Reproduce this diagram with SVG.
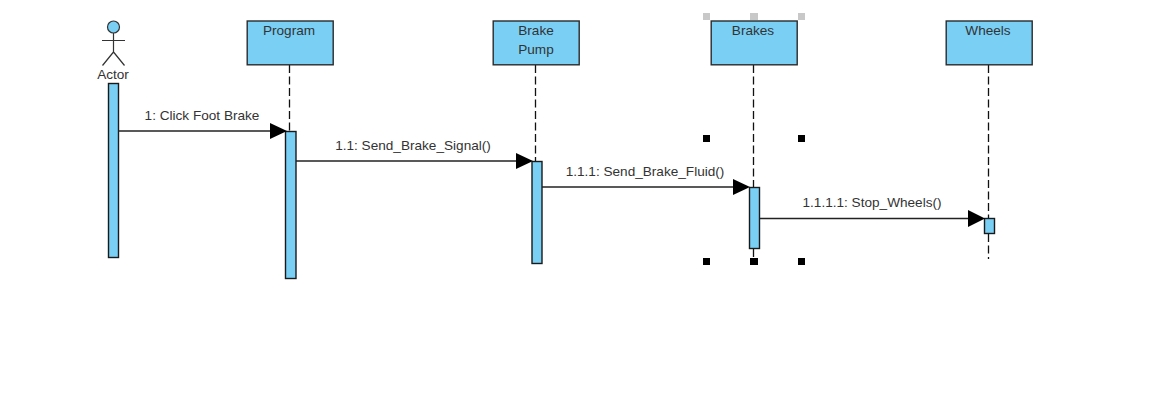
<svg xmlns="http://www.w3.org/2000/svg" width="1163" height="413" viewBox="0 0 1163 413">
<defs>
<style>
.box{fill:#7acff5;stroke:#2b2b2b;stroke-width:1.4}
.act{fill:#7acff5;stroke:#1a1a1a;stroke-width:1.4}
.life{fill:none;stroke:#111;stroke-width:1.3;stroke-dasharray:8 3.5}
.msg{fill:none;stroke:#222;stroke-width:1.4}
.head{fill:#000;stroke:none}
.t{font-family:"Liberation Sans",Arial,sans-serif;font-size:13.6px;fill:#333;text-anchor:middle}
.hs{fill:#000}
.hg{fill:#c8c8c8}
.stick{fill:none;stroke:#333;stroke-width:1.2}
</style>
</defs>
<rect width="1163" height="413" fill="#fff"/>
<g id="lifelines">
<path class="life" d="M289.500 65V131"/>
<path class="life" d="M535.500 65V161"/>
<path class="life" d="M753.500 65V187M753.500 249V258"/>
<path class="life" d="M988.500 65V218M988.500 234V259"/>
</g>
<g id="actor">
<circle cx="113.500" cy="27" r="6" fill="#7acff5" stroke="#333" stroke-width="1.2"/>
<path class="stick" d="M113.500 33V52M102 40.500H125M113.500 52L102.500 65.500M113.500 52L124.500 65.500"/>
<text class="t" x="113" y="79">Actor</text>
<rect class="act" x="108.500" y="83.500" width="10" height="174"/>
</g>
<g id="program">
<rect class="box" x="247.200" y="21" width="86" height="43.800"/>
<text class="t" x="289" y="35">Program</text>
<rect class="act" x="285.500" y="131.500" width="10.500" height="147"/>
</g>
<g id="brake-pump">
<rect class="box" x="493.200" y="21" width="86" height="43.800"/>
<text class="t" x="536" y="35">Brake</text>
<text class="t" x="536" y="54">Pump</text>
<rect class="act" x="532" y="161.500" width="10" height="102"/>
</g>
<g id="brakes">
<rect class="box" x="711.200" y="21" width="86" height="43.800"/>
<text class="t" x="753" y="35">Brakes</text>
<rect class="act" x="749.500" y="187.500" width="10" height="61"/>
</g>
<g id="wheels">
<rect class="box" x="946.200" y="21" width="86" height="43.800"/>
<text class="t" x="988" y="35">Wheels</text>
<rect class="act" x="984.500" y="218.500" width="10" height="15"/>
</g>
<g id="connectors">
<path class="msg" d="M118 131H272"/>
<path class="head" d="M270 123L287 131L270 139Z"/>
<text class="t" x="202" y="120">1: Click Foot Brake</text>
<path class="msg" d="M296 161H518"/>
<path class="head" d="M516 153L533 161L516 169Z"/>
<text class="t" x="413" y="150">1.1: Send_Brake_Signal()</text>
<path class="msg" d="M542 187H735"/>
<path class="head" d="M733 179L750 187L733 195Z"/>
<text class="t" x="645" y="176">1.1.1: Send_Brake_Fluid()</text>
<path class="msg" d="M760 218.500H970"/>
<path class="head" d="M968 210L985 218.500L968 227Z"/>
<text class="t" x="872" y="207">1.1.1.1: Stop_Wheels()</text>
</g>
<g id="handles">
<rect class="hg" x="703" y="13" width="7" height="7"/>
<rect class="hg" x="750" y="13" width="8" height="7"/>
<rect class="hg" x="798" y="13" width="7" height="7"/>
<rect class="hs" x="703" y="135" width="7" height="7"/>
<rect class="hs" x="798" y="135" width="7" height="7"/>
<rect class="hs" x="703" y="258" width="7" height="7"/>
<rect class="hs" x="750" y="258" width="8" height="7"/>
<rect class="hs" x="798" y="258" width="7" height="7"/>
</g>
</svg>
